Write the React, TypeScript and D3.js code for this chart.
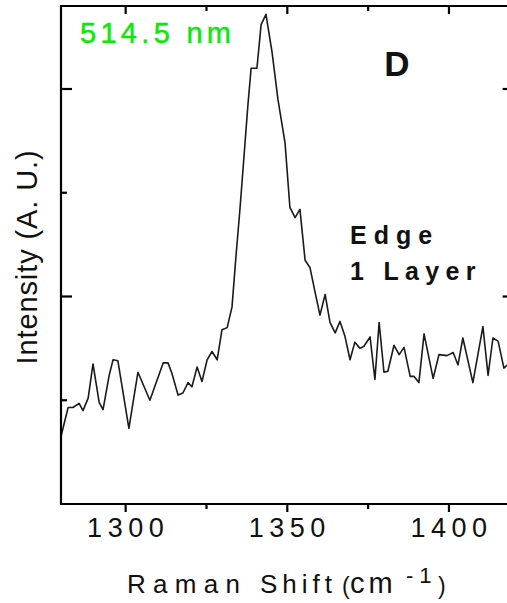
import React from "react";
import * as d3 from "d3";

const ramanShift = [
  1280.0, 1282.2, 1283.7, 1285.6, 1286.8, 1288.4, 1289.9, 1291.8, 1293.0, 1294.9,
  1296.1, 1297.6, 1301.0, 1303.8, 1307.5, 1311.6, 1313.1, 1314.3, 1316.2, 1317.7,
  1319.3, 1320.5, 1322.1, 1323.6, 1325.2, 1326.7, 1328.3, 1329.8, 1331.4, 1332.9,
  1334.1, 1335.4, 1336.6, 1337.8, 1338.8, 1340.6, 1341.9, 1343.4, 1345.3, 1347.1,
  1349.3, 1350.8, 1352.4, 1353.9, 1355.5, 1357.0, 1358.6, 1360.1, 1361.7, 1363.2,
  1364.8, 1366.3, 1367.8, 1369.4, 1370.9, 1372.5, 1373.7, 1375.6, 1377.1, 1378.4,
  1379.9, 1381.1, 1383.0, 1384.6, 1386.1, 1388.0, 1389.2, 1390.7, 1392.3, 1395.1,
  1396.9, 1399.4, 1401.3, 1402.8, 1404.3, 1407.4, 1410.5, 1412.1, 1413.6, 1415.2,
  1417.0, 1418.0,
];
const intensity = [
  0.65, 0.93, 0.93, 0.97, 0.9, 1.02, 1.35, 0.98, 0.91, 1.24,
  1.39, 1.38, 0.73, 1.27, 1.0, 1.36, 1.36, 1.26, 1.05, 1.07,
  1.17, 1.13, 1.32, 1.18, 1.39, 1.47, 1.39, 1.68, 1.7, 1.9,
  2.38, 2.86, 3.35, 3.84, 4.2, 4.2, 4.62, 4.72, 4.35, 3.9,
  3.48, 2.86, 2.76, 2.84, 2.35, 2.28, 2.04, 1.82, 2.02, 1.75,
  1.65, 1.76, 1.62, 1.39, 1.56, 1.5, 1.52, 1.61, 1.2, 1.75,
  1.27, 1.28, 1.53, 1.44, 1.51, 1.23, 1.23, 1.17, 1.64, 1.21,
  1.44, 1.43, 1.46, 1.34, 1.6, 1.17, 1.71, 1.24, 1.6, 1.57,
  1.31, 1.34,
];
const xMajorTicks = [1300, 1350, 1400];
const xMinorTicks = [1325, 1375];
const yMajorTicks = [2, 4];
const yMinorTicks = [1, 3];
const xDomain = [1280, 1420];
const yDomain = [0, 4.8];

const FONT = "'Liberation Sans', Arial, Helvetica, sans-serif";

export default function App() {
  const W = 507;
  const H = 603;
  const left = 61;
  const top = 6;
  const bottom = 504;
  const x = d3.scaleLinear().domain(xDomain).range([left, left + 140 * 3.233]);
  const y = d3.scaleLinear().domain(yDomain).range([bottom, top]);
  const right = x(xDomain[1]);
  const pts: [number, number][] = ramanShift.map((v, i) => [v, intensity[i]]);
  const line = d3
    .line<[number, number]>()
    .x((d) => x(d[0]))
    .y((d) => y(d[1]));

  return (
    <svg
      width={W}
      height={H}
      style={{ position: "absolute", left: 0, top: 0, background: "#fff" }}
    >
      <rect x={0} y={0} width={W} height={H} fill="#fff" />
      <path d={line(pts) || ""} fill="none" stroke="#1a1a1a" strokeWidth={1.6} strokeLinejoin="round" />
      {/* frame */}
      <g stroke="#000" strokeWidth={2.2} fill="none">
        <line x1={left} y1={top} x2={left} y2={bottom + 1} />
        <line x1={left - 1} y1={top} x2={right} y2={top} />
        <line x1={left - 1} y1={bottom} x2={right} y2={bottom} />
        <line x1={right} y1={top} x2={right} y2={bottom} />
      </g>
      {/* ticks */}
      <g stroke="#000" strokeWidth={2.2}>
        {xMajorTicks.map((t) => (
          <g key={"xM" + t}>
            <line x1={x(t)} x2={x(t)} y1={bottom} y2={bottom + 8} />
            <line x1={x(t)} x2={x(t)} y1={top} y2={top + 8} />
          </g>
        ))}
        {xMinorTicks.map((t) => (
          <g key={"xm" + t}>
            <line x1={x(t)} x2={x(t)} y1={bottom} y2={bottom + 5} />
            <line x1={x(t)} x2={x(t)} y1={top} y2={top + 5} />
          </g>
        ))}
        {yMajorTicks.map((t) => (
          <g key={"yM" + t}>
            <line x1={left} x2={left + 11} y1={y(t)} y2={y(t)} />
            <line x1={right} x2={right - 11} y1={y(t)} y2={y(t)} />
          </g>
        ))}
        {yMinorTicks.map((t) => (
          <g key={"ym" + t}>
            <line x1={left} x2={left + 6} y1={y(t)} y2={y(t)} />
            <line x1={right} x2={right - 6} y1={y(t)} y2={y(t)} />
          </g>
        ))}
      </g>
      {/* x tick labels */}
      <g fontFamily={FONT} fontSize={27} fill="#111" textAnchor="middle" letterSpacing={5.5}>
        {xMajorTicks.map((t) => (
          <text key={"xl" + t} x={x(t) + 2.5} y={537}>
            {t}
          </text>
        ))}
      </g>
      {/* axis titles */}
      <g fontFamily={FONT} fill="#111">
        <text fontSize={26} x={127} y={593} letterSpacing={7.3}>Raman</text>
        <text fontSize={26} x={260} y={593} letterSpacing={5}>Shift</text>
        <text fontSize={23} x={342} y={594}>(</text>
        <text fontSize={29} x={350} y={593} letterSpacing={4}>cm</text>
        <text fontSize={22} x={406} y={583} letterSpacing={6}>-1</text>
        <text fontSize={23} x={438} y={594}>)</text>
      </g>
      <text
        fontFamily={FONT}
        fontSize={29}
        fill="#111"
        textAnchor="middle"
        letterSpacing={0.9}
        transform={`translate(37, 257) rotate(-90)`}
      >
        Intensity (A. U.)
      </text>
      {/* annotations */}
      <text fontFamily={FONT} fontSize={29} fill="#0be80b" stroke="#0be80b" strokeWidth={0.5} x={80} y={43} letterSpacing={4.3}>
        514.5 nm
      </text>
      <text fontFamily={FONT} fontSize={35} fontWeight="bold" fill="#111" x={397} y={76} textAnchor="middle">
        D
      </text>
      <text fontFamily={FONT} fontSize={25} fontWeight="bold" fill="#111" x={350} y={244} letterSpacing={7}>
        Edge
      </text>
      <text fontFamily={FONT} fontSize={25} fontWeight="bold" fill="#111" x={350} y={280} letterSpacing={6.3}>
        1 Layer
      </text>
    </svg>
  );
}
